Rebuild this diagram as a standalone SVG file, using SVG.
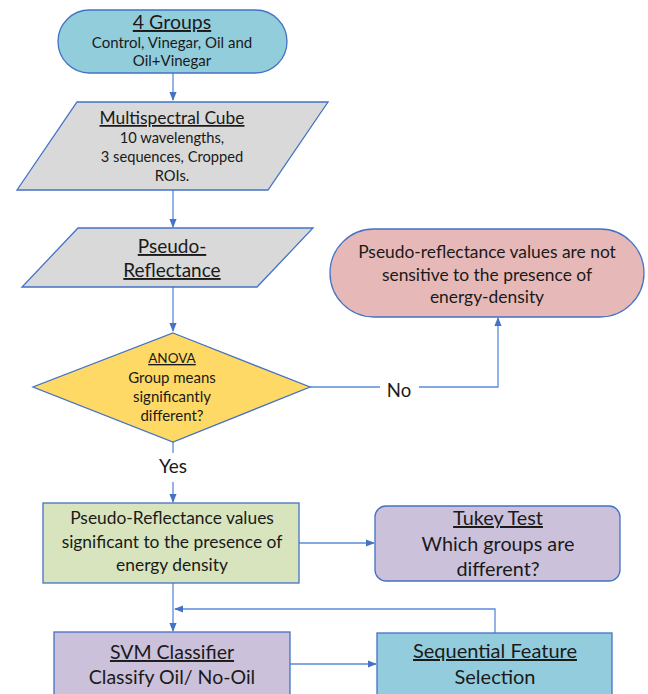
<svg xmlns="http://www.w3.org/2000/svg" width="648" height="694" viewBox="0 0 648 694">
<style>
.n{stroke:#4472C4;stroke-width:1.3}
text{font-family:Lato,"Open Sans","Liberation Sans",sans-serif;fill:#1a1a1a;text-anchor:middle}
.u{text-decoration:underline}
.c{fill:none;stroke:#5B8BD9;stroke-width:1.3}
</style>
<defs>
<marker id="a" viewBox="0 0 10 10" refX="9" refY="5" markerWidth="7" markerHeight="7" orient="auto"><path d="M0,1 L10,5 L0,9 z" fill="#4472C4"/></marker>
</defs>
<rect width="648" height="694" fill="#fff"/>
<g id="connectors">
<path class="c" d="M173,73 V100" marker-end="url(#a)"/>
<path class="c" d="M173,190 V227" marker-end="url(#a)"/>
<path class="c" d="M173,287 V331" marker-end="url(#a)"/>
<path class="c" d="M173,442 V453"/>
<path class="c" d="M173,482 V502" marker-end="url(#a)"/>
<path class="c" d="M310,387 H380"/>
<path class="c" d="M419,387 H498 V318" marker-end="url(#a)"/>
<path class="c" d="M299,543 H374" marker-end="url(#a)"/>
<path class="c" d="M173,583 V631" marker-end="url(#a)"/>
<path class="c" d="M495,633 V609 H175" marker-end="url(#a)"/>
<path class="c" d="M290,664 H376" marker-end="url(#a)"/>
<text x="399" y="397" font-size="18.5">No</text>
<text x="173" y="473" font-size="19">Yes</text>
</g>
<g id="groups">
<rect class="n" x="58" y="10" width="229" height="63" rx="31.5" fill="#92CDDC"/>
<text x="172" y="29" font-size="19.5" class="u">4 Groups</text>
<text x="172" y="48" font-size="15">Control, Vinegar, Oil and</text>
<text x="172" y="66" font-size="15">Oil+Vinegar</text>
</g>
<g id="cube">
<polygon class="n" points="77,102 328,102 268,190 17,190" fill="#D9D9D9"/>
<text x="172" y="124" font-size="17.4" class="u">Multispectral Cube</text>
<text x="172" y="143" font-size="14.7">10 wavelengths,</text>
<text x="172" y="162" font-size="14.7">3 sequences, Cropped</text>
<text x="172" y="181" font-size="14.7">ROIs.</text>
</g>
<g id="pseudo">
<polygon class="n" points="78,228 313,228 257,287 22,287" fill="#D9D9D9"/>
<text x="172" y="253" font-size="19" class="u">Pseudo-</text>
<text x="172" y="277" font-size="19" class="u">Reflectance</text>
</g>
<g id="anova">
<polygon class="n" points="173,333 310,387 173,442 33,387" fill="#FFD966"/>
<text x="172" y="363" font-size="13.5" class="u">ANOVA</text>
<text x="172" y="383" font-size="15">Group means</text>
<text x="172" y="402" font-size="15">significantly</text>
<text x="172" y="421" font-size="15">different?</text>
</g>
<g id="notsensitive">
<rect class="n" x="330" y="229" width="314" height="88" rx="44" fill="#E6B9B8"/>
<text x="487" y="258" font-size="17.4">Pseudo-reflectance values are not</text>
<text x="487" y="281" font-size="17.4">sensitive to the presence of</text>
<text x="487" y="303" font-size="17.4">energy-density</text>
</g>
<g id="significant">
<rect class="n" x="43" y="503" width="256" height="80" fill="#D7E4BD"/>
<text x="172" y="524" font-size="17.4">Pseudo-Reflectance values</text>
<text x="172" y="548" font-size="17.4">significant to the presence of</text>
<text x="172" y="571" font-size="17.4">energy density</text>
</g>
<g id="tukey">
<rect class="n" x="375" y="506" width="245" height="75" rx="11" fill="#CCC1DA"/>
<text x="498" y="525" font-size="19.8" class="u">Tukey Test</text>
<text x="498" y="551" font-size="19.8">Which groups are</text>
<text x="498" y="576" font-size="19.8">different?</text>
</g>
<g id="svm">
<rect class="n" x="54" y="632" width="236" height="70" fill="#CCC1DA"/>
<text x="172" y="659" font-size="19.5" class="u">SVM Classifier</text>
<text x="172" y="684" font-size="19.5">Classify Oil/ No-Oil</text>
</g>
<g id="sfs">
<rect class="n" x="377" y="633" width="235" height="70" fill="#93CDDD"/>
<text x="495" y="658" font-size="20" class="u">Sequential Feature</text>
<text x="495" y="684" font-size="20">Selection</text>
</g>
</svg>
